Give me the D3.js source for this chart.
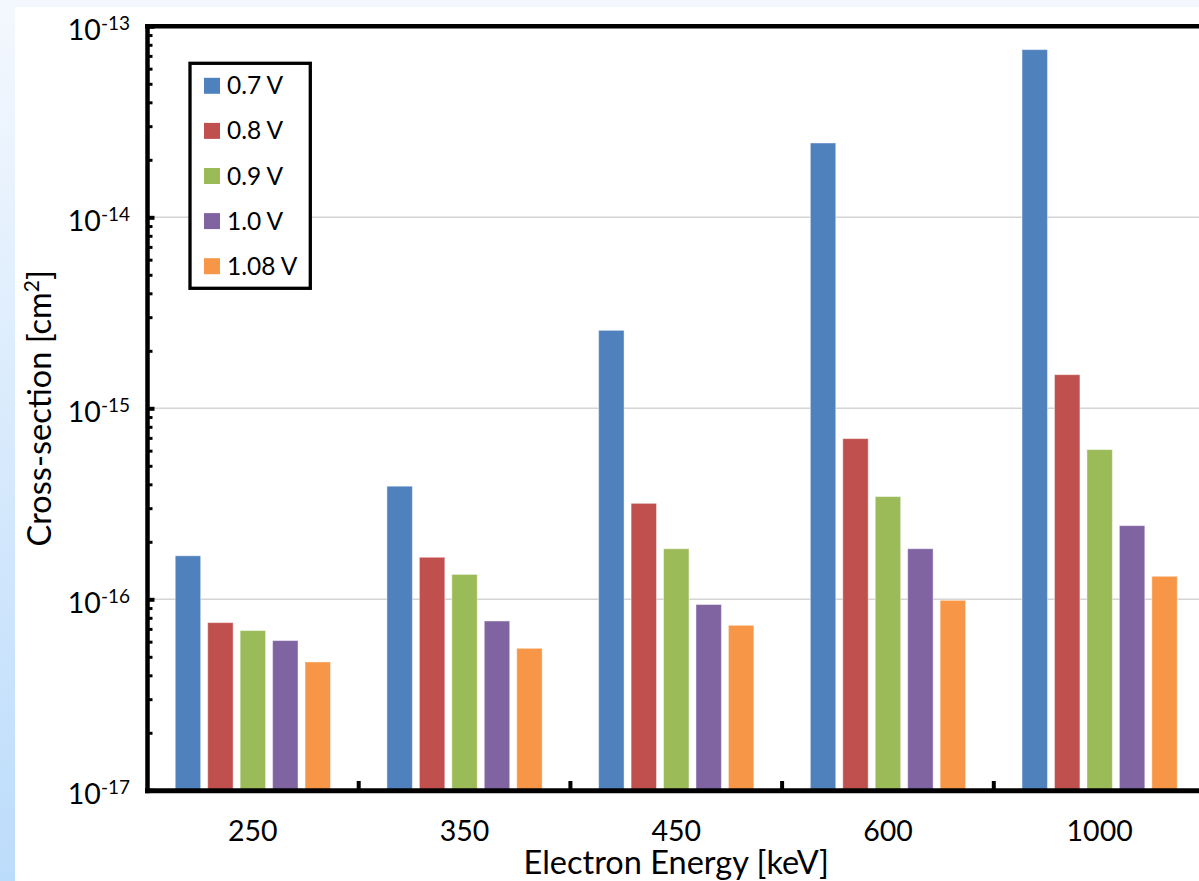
<!DOCTYPE html>
<html>
<head>
<meta charset="utf-8">
<script src="https://cdn.jsdelivr.net/npm/d3@7"></script>
<style>
    body { margin: 0; padding: 0; overflow: hidden; }
    svg { display: block; font-family: Lato, "Open Sans", sans-serif; }
</style>
</head>
<body>
<div id="chart"></div>
<script>
// categories (electron energy, keV) and one value array per bias voltage
const categories = ['250', '350', '450', '600', '1000'];
const seriesNames = ['0.7 V', '0.8 V', '0.9 V', '1.0 V', '1.08 V'];
const seriesColors = ['#4f81bd', '#c0504d', '#9bbb59', '#8064a2', '#f79646'];

const v07 = [1.69e-16, 3.91e-16, 2.56e-15, 2.45e-14, 7.55e-14];
const v08 = [7.55e-17, 1.66e-16, 3.18e-16, 6.94e-16, 1.50e-15];
const v09 = [6.86e-17, 1.35e-16, 1.84e-16, 3.45e-16, 6.08e-16];
const v10 = [6.08e-17, 7.70e-17, 9.39e-17, 1.84e-16, 2.43e-16];
const v108 = [4.70e-17, 5.54e-17, 7.31e-17, 9.88e-17, 1.32e-16];

const yDecades = [-17, -16, -15, -14, -13];

const width = 1199, height = 881;
const series = [v07, v08, v09, v10, v108];

const svg = d3.select('#chart')
    .append('svg')
    .attr('width', width)
    .attr('height', height);

// background: pale blue frame
const grad = svg.append('defs').append('linearGradient')
    .attr('id', 'bg')
    .attr('x1', 0).attr('y1', 0).attr('x2', 0).attr('y2', 1);
grad.append('stop').attr('offset', '0%').attr('stop-color', '#f4f8fe');
grad.append('stop').attr('offset', '100%').attr('stop-color', '#bcdcfb');

svg.append('rect').attr('width', width).attr('height', height).attr('fill', 'url(#bg)');
svg.append('rect').attr('x', 15).attr('y', 7).attr('width', width - 15).attr('height', height - 7).attr('fill', '#fff');

const plotLeft = 147, plotRight = 1205.5, plotTop = 26.3, plotBottom = 790.3;

const y = d3.scaleLog().domain([1e-17, 1e-13]).range([plotBottom, plotTop]);
const x0 = d3.scaleBand().domain(categories).range([plotLeft, plotRight]);
const x1 = d3.scaleBand().domain(seriesNames).range([0, x0.bandwidth()])
    .paddingInner(0.216).paddingOuter(0.87);

// gridlines
svg.append('g')
    .selectAll('line')
    .data(yDecades.slice(1, -1))
    .enter().append('line')
    .attr('x1', plotLeft).attr('x2', width)
    .attr('y1', d => y(Math.pow(10, d)))
    .attr('y2', d => y(Math.pow(10, d)))
    .attr('stroke', '#d4d4d4')
    .attr('stroke-width', 1.5);

// bars
const groups = svg.append('g')
    .selectAll('g')
    .data(categories)
    .enter().append('g')
    .attr('transform', c => `translate(${x0(c)},0)`);

groups.selectAll('rect')
    .data((c, i) => series.map((s, j) => ({ name: seriesNames[j], value: s[i], color: seriesColors[j] })))
    .enter().append('rect')
    .attr('x', d => x1(d.name))
    .attr('width', x1.bandwidth())
    .attr('y', d => y(d.value))
    .attr('height', d => y(1e-17) - y(d.value))
    .attr('fill', d => d.color)
    .attr('stroke', '#fff')
    .attr('stroke-opacity', 0.45)
    .attr('stroke-width', 1);

// y ticks (inward), minor and major
let minor = [];
yDecades.slice(0, -1).forEach(d => {
    for (let k = 2; k <= 9; k++) minor.push(k * Math.pow(10, d));
});

const yAxisMinor = svg.append('g')
    .attr('transform', `translate(${plotLeft + 0.5},0)`)
    .call(d3.axisRight(y).tickValues(minor).tickSize(5).tickFormat(''));
yAxisMinor.select('.domain').remove();
yAxisMinor.selectAll('line').attr('stroke', '#000').attr('stroke-width', 3);

const yAxisMajor = svg.append('g')
    .attr('transform', `translate(${plotLeft + 0.5},0)`)
    .call(d3.axisRight(y).tickValues(yDecades.map(d => Math.pow(10, d))).tickSize(7).tickFormat(''));
yAxisMajor.select('.domain').remove();
yAxisMajor.selectAll('line').attr('stroke', '#000').attr('stroke-width', 4);

// y tick labels as 10 with superscript exponent
const yLabels = svg.append('g')
    .selectAll('text')
    .data(yDecades)
    .enter().append('text')
    .attr('x', 130)
    .attr('y', d => y(Math.pow(10, d)) + 13.5)
    .attr('text-anchor', 'end')
    .attr('font-size', 28.5)
    .attr('fill', '#000');
yLabels.append('tspan').text('10');
yLabels.append('tspan')
    .attr('dy', -10)
    .attr('font-size', 19)
    .text(d => String(d));

// category ticks (inward, between groups)
svg.append('g')
    .selectAll('line')
    .data(categories.slice(1))
    .enter().append('line')
    .attr('x1', c => x0(c)).attr('x2', c => x0(c))
    .attr('y1', 781).attr('y2', plotBottom)
    .attr('stroke', '#000')
    .attr('stroke-width', 4);

// frame lines
svg.append('line')
    .attr('x1', plotLeft + 0.5).attr('x2', plotLeft + 0.5)
    .attr('y1', plotTop - 2.3).attr('y2', plotBottom + 3)
    .attr('stroke', '#000').attr('stroke-width', 4.5);
svg.append('line')
    .attr('x1', plotLeft - 2).attr('x2', width)
    .attr('y1', plotBottom + 0.5).attr('y2', plotBottom + 0.5)
    .attr('stroke', '#000').attr('stroke-width', 5);
svg.append('line')
    .attr('x1', plotLeft - 2).attr('x2', width)
    .attr('y1', plotTop).attr('y2', plotTop)
    .attr('stroke', '#000').attr('stroke-width', 4.5);

// x tick labels
svg.append('g')
    .selectAll('text')
    .data(categories)
    .enter().append('text')
    .attr('x', c => x0(c) + x0.bandwidth() / 2)
    .attr('y', 841)
    .attr('text-anchor', 'middle')
    .attr('font-size', 28.5)
    .attr('fill', '#000')
    .text(c => c);

// axis titles
svg.append('text')
    .attr('x', (plotLeft + plotRight) / 2)
    .attr('y', 874)
    .attr('text-anchor', 'middle')
    .attr('font-size', 32.5)
    .attr('fill', '#000')
    .text('Electron Energy [keV]');

const yTitle = svg.append('text')
    .attr('transform', `translate(51,${(plotTop + plotBottom) / 2}) rotate(-90)`)
    .attr('text-anchor', 'middle')
    .attr('font-size', 32.5)
    .attr('fill', '#000');
yTitle.append('tspan').text('Cross-section [cm');
yTitle.append('tspan').attr('dy', -12).attr('font-size', 21).text('2');
yTitle.append('tspan').attr('dy', 12).text(']');

// legend
const legend = svg.append('g');
legend.append('rect')
    .attr('x', 190).attr('y', 63.3)
    .attr('width', 120.3).attr('height', 225)
    .attr('fill', '#fff')
    .attr('stroke', '#000')
    .attr('stroke-width', 3.3);

const items = legend.selectAll('g.item')
    .data(seriesNames)
    .enter().append('g')
    .attr('class', 'item')
    .attr('transform', (d, i) => `translate(0,${85.8 + i * 45.1})`);
items.append('rect')
    .attr('x', 204).attr('y', -8)
    .attr('width', 16).attr('height', 16)
    .attr('fill', (d, i) => seriesColors[i]);
items.append('text')
    .attr('x', 227).attr('y', 8.5)
    .attr('font-size', 24.5)
    .attr('fill', '#000')
    .text(d => d);
</script>
</body>
</html>
